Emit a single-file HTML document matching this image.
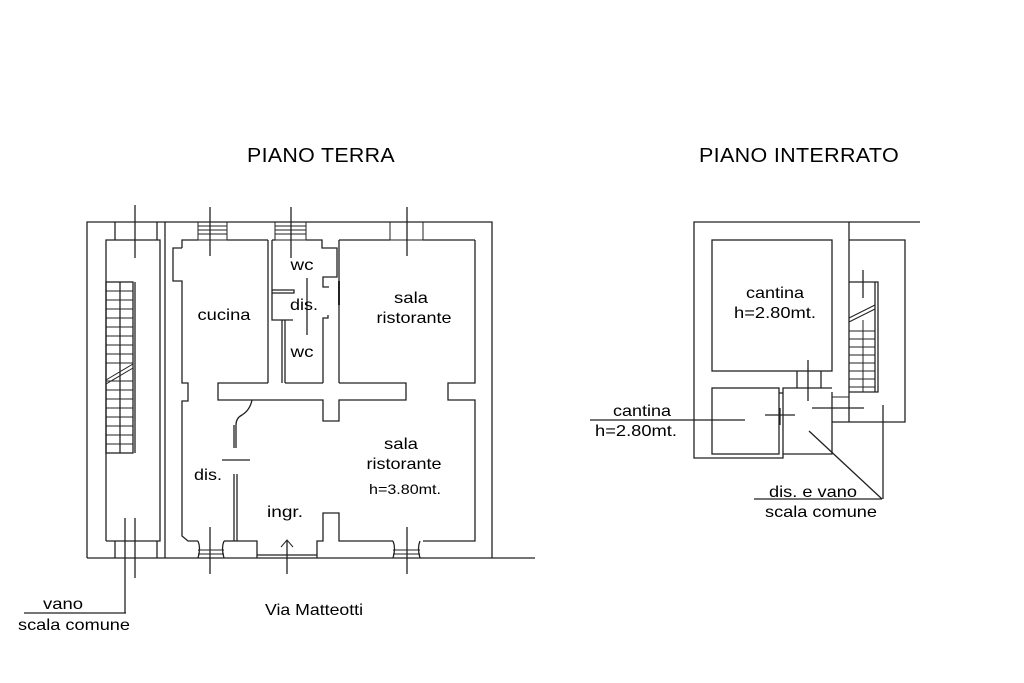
<!DOCTYPE html>
<html><head><meta charset="utf-8"><style>
html,body{margin:0;padding:0;background:#fff;}
svg{display:block}
text{font-family:"Liberation Sans",Arial,sans-serif;fill:#000;}
</style></head><body>
<svg width="1024" height="683" viewBox="0 0 1024 683" xmlns="http://www.w3.org/2000/svg">
<g fill="none" stroke="#222" stroke-width="1.3">
<polyline points="87,558 87,222 492,222 492,558"/>
<line x1="87" y1="558" x2="535" y2="558"/>
<polyline points="106,541 106,240 160,240 160,541 106,541"/>
<line x1="165" y1="222" x2="165" y2="558"/>
<line x1="115" y1="222" x2="115" y2="240"/><line x1="157" y1="222" x2="157" y2="240"/>
<line x1="115" y1="541" x2="115" y2="558"/><line x1="157" y1="541" x2="157" y2="558"/>
<rect x="106" y="282" width="27" height="171"/>
<line x1="135" y1="282" x2="135" y2="453"/>
<line x1="120" y1="282" x2="120" y2="453"/>
<g stroke-width="1">
<line x1="106" y1="291" x2="133" y2="291"/><line x1="106" y1="300" x2="133" y2="300"/><line x1="106" y1="309" x2="133" y2="309"/><line x1="106" y1="318" x2="133" y2="318"/><line x1="106" y1="327" x2="133" y2="327"/><line x1="106" y1="336" x2="133" y2="336"/><line x1="106" y1="345" x2="133" y2="345"/><line x1="106" y1="354" x2="133" y2="354"/><line x1="106" y1="363" x2="133" y2="363"/><line x1="106" y1="381" x2="133" y2="381"/><line x1="106" y1="390" x2="133" y2="390"/><line x1="106" y1="399" x2="133" y2="399"/><line x1="106" y1="408" x2="133" y2="408"/><line x1="106" y1="417" x2="133" y2="417"/><line x1="106" y1="426" x2="133" y2="426"/><line x1="106" y1="435" x2="133" y2="435"/><line x1="106" y1="444" x2="133" y2="444"/>
<line x1="106" y1="380" x2="133" y2="364"/><line x1="106" y1="384" x2="133" y2="368"/>
</g>
<polyline points="182,248 182,240 198,240"/>
<polyline points="182,248 173,248 173,281 182,281 182,383 188,383 188,401 182,401 182,536 188,541 198,541"/>
<g stroke-width="1"><rect x="198" y="222" width="29" height="18"/><line x1="198" y1="226" x2="227" y2="226"/><line x1="198" y1="230" x2="227" y2="230"/><line x1="198" y1="234" x2="227" y2="234"/>
<rect x="275" y="222" width="31" height="18"/><line x1="275" y1="226" x2="306" y2="226"/><line x1="275" y1="230" x2="306" y2="230"/><line x1="275" y1="234" x2="306" y2="234"/>
<line x1="198" y1="550" x2="224" y2="550"/><line x1="198" y1="554" x2="224" y2="554"/>
<line x1="393" y1="550" x2="420" y2="550"/><line x1="393" y1="554" x2="420" y2="554"/>
<polyline points="390,222 390,240 423,240 423,222"/></g>
<line x1="227" y1="240" x2="268" y2="240"/>
<line x1="268" y1="240" x2="268" y2="383"/>
<path d="M198,541 Q201,548 198,558 M224,541 Q221,548 224,558"/>
<line x1="224" y1="541" x2="233" y2="541"/>
<polyline points="306,240 322,240 322,248 337,248 337,277 323,277 323,287 329,287"/>
<polyline points="272,240 275,240"/>
<polyline points="272,240 272,320 293,320"/>
<polyline points="272,290 294,290 294,293 272,293"/>
<line x1="282" y1="320" x2="282" y2="383"/><line x1="285" y1="320" x2="285" y2="383"/>
<polyline points="323,383 323,318 328,318 328,315"/>
<line x1="339" y1="240" x2="339" y2="383"/>
<line x1="339" y1="281" x2="339" y2="305" stroke-width="2"/>
<line x1="307" y1="278" x2="307" y2="335"/>
<line x1="339" y1="240" x2="390" y2="240"/>
<line x1="423" y1="240" x2="475" y2="240"/>
<polyline points="475,240 475,383 448,383 448,400 475,400 475,541 423,541"/>
<path d="M420,541 Q417,548 420,558 M393,541 Q396,548 393,558"/>
<polyline points="393,541 339,541 339,513 323,513 323,541 317,541 317,558"/>
<polyline points="268,383 218,383 218,400 323,400 323,421 339,421 339,400 406,400 406,383 339,383"/>
<line x1="285" y1="383" x2="323" y2="383"/>
<path d="M252,400 Q250,410 242,415 Q236,418 236,425 L236,448 M234,448 L234,425"/>
<line x1="222" y1="460" x2="250" y2="460"/>
<line x1="234" y1="474" x2="234" y2="541"/><line x1="237" y1="474" x2="237" y2="541"/>
<polyline points="233,541 257,541 257,558"/>
<line x1="257" y1="555" x2="317" y2="555"/>
<line x1="287" y1="574" x2="287" y2="540"/><polyline points="281,547 287,540 293,547" stroke-width="1"/>
<line x1="135" y1="205" x2="135" y2="258"/>
<line x1="210" y1="207" x2="210" y2="256"/>
<line x1="291" y1="207" x2="291" y2="258"/>
<line x1="407" y1="207" x2="407" y2="256"/>
<line x1="125" y1="518" x2="125" y2="613"/>
<line x1="135" y1="518" x2="135" y2="578"/>
<line x1="210" y1="527" x2="210" y2="574"/>
<line x1="407" y1="527" x2="407" y2="574"/>
<line x1="24" y1="613" x2="126" y2="613"/>

<polyline points="849,222 694,222 694,458 783,458 783,454 832,454 832,392"/>
<line x1="849" y1="222" x2="920" y2="222"/>
<line x1="849" y1="222" x2="849" y2="422"/>
<polyline points="849,240 905,240 905,422 832,422"/>
<rect x="712" y="240" width="120" height="131"/>
<rect x="712" y="388" width="67" height="66"/>
<polyline points="783,454 783,388 832,388"/>
<line x1="779" y1="393" x2="783" y2="393"/>
<line x1="797" y1="371" x2="797" y2="388"/><line x1="821" y1="371" x2="821" y2="388"/>
<polyline points="849,282 878,282 878,392 849,392"/>
<line x1="875" y1="282" x2="875" y2="392"/>
<line x1="863" y1="270" x2="863" y2="298"/>
<g stroke-width="1">
<line x1="849" y1="318" x2="875" y2="305"/><line x1="849" y1="322" x2="875" y2="309"/>
<line x1="849" y1="331" x2="875" y2="331"/><line x1="849" y1="339" x2="875" y2="339"/><line x1="849" y1="347" x2="875" y2="347"/><line x1="849" y1="355" x2="875" y2="355"/><line x1="849" y1="363" x2="875" y2="363"/><line x1="849" y1="371" x2="875" y2="371"/><line x1="849" y1="379" x2="875" y2="379"/><line x1="849" y1="387" x2="875" y2="387"/>
<line x1="863" y1="320" x2="863" y2="392"/>
<line x1="832" y1="397" x2="849" y2="397"/>
</g>
<line x1="808" y1="360" x2="808" y2="401"/>
<line x1="812" y1="408" x2="864" y2="408"/>
<line x1="765" y1="415" x2="795" y2="415"/>
<line x1="780" y1="408" x2="780" y2="425"/>
<line x1="590" y1="420" x2="745" y2="420"/>
<line x1="809" y1="431" x2="882" y2="499"/>
<line x1="883" y1="405" x2="883" y2="499"/>
<line x1="754" y1="499" x2="882" y2="499"/>
</g>
<g font-size="20" letter-spacing="0.3"><text x="321" y="162" text-anchor="middle" textLength="148" lengthAdjust="spacingAndGlyphs">PIANO TERRA</text>
<text x="799" y="162" text-anchor="middle" textLength="200" lengthAdjust="spacingAndGlyphs">PIANO INTERRATO</text></g>
<g font-size="16" text-anchor="middle" lengthAdjust="spacingAndGlyphs">
<text x="224" y="320" textLength="53" lengthAdjust="spacingAndGlyphs">cucina</text>
<text x="302" y="270" textLength="23" lengthAdjust="spacingAndGlyphs">wc</text>
<text x="304" y="310" textLength="28" lengthAdjust="spacingAndGlyphs">dis.</text>
<text x="302" y="357" textLength="23" lengthAdjust="spacingAndGlyphs">wc</text>
<text x="411" y="303" textLength="34" lengthAdjust="spacingAndGlyphs">sala</text>
<text x="414" y="323" textLength="75" lengthAdjust="spacingAndGlyphs">ristorante</text>
<text x="401" y="449" textLength="34" lengthAdjust="spacingAndGlyphs">sala</text>
<text x="404" y="469" textLength="75" lengthAdjust="spacingAndGlyphs">ristorante</text>
<text x="208" y="480" textLength="28" lengthAdjust="spacingAndGlyphs">dis.</text>
<text x="285" y="517" textLength="36" lengthAdjust="spacingAndGlyphs">ingr.</text>
<text x="63" y="609" textLength="40" lengthAdjust="spacingAndGlyphs">vano</text>
<text x="74" y="630" textLength="112" lengthAdjust="spacingAndGlyphs">scala comune</text>
<text x="314" y="615" textLength="98" lengthAdjust="spacingAndGlyphs">Via Matteotti</text>
<text x="775" y="298" textLength="58" lengthAdjust="spacingAndGlyphs">cantina</text>
<text x="775" y="318" textLength="82" lengthAdjust="spacingAndGlyphs">h=2.80mt.</text>
<text x="642" y="416" textLength="58" lengthAdjust="spacingAndGlyphs">cantina</text>
<text x="636" y="436" textLength="82" lengthAdjust="spacingAndGlyphs">h=2.80mt.</text>
<text x="813" y="497" textLength="88" lengthAdjust="spacingAndGlyphs">dis. e vano</text>
<text x="821" y="517" textLength="112" lengthAdjust="spacingAndGlyphs">scala comune</text>
</g>
<text x="405" y="494" font-size="14" text-anchor="middle" textLength="72" lengthAdjust="spacingAndGlyphs">h=3.80mt.</text>
</svg>
</body></html>
